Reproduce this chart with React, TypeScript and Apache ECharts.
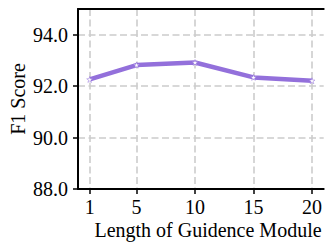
import React, { useEffect, useRef } from "react";
import * as echarts from "echarts";

const lengths = [1, 5, 10, 15, 20];
const f1Scores = [92.26, 92.82, 92.92, 92.34, 92.21];
const yTicks = [88, 90, 92, 94];

const STAR =
  "path://M50,0 L61,35 L98,35 L68,57 L79,91 L50,70 L21,91 L32,57 L2,35 L39,35 Z";

export default function App() {
  const ref = useRef<HTMLDivElement>(null);
  useEffect(() => {
    if (!ref.current) return;
    const chart = echarts.init(ref.current, null, { renderer: "svg" });
    const font = "Liberation Serif";
    const grid = { color: "#cccccc", width: 1.6, type: [7, 3.5] as number[] };
    chart.setOption({
      animation: false,
      backgroundColor: "#ffffff",
      grid: { left: 78, top: 9, bottom: 55, right: -2 },
      xAxis: [
        {
          type: "value",
          min: 0,
          max: 21,
          axisLine: { show: true, lineStyle: { color: "#000", width: 2 } },
          axisTick: {
            show: true,
            customValues: lengths,
            length: 5,
            lineStyle: { color: "#000", width: 1.5 },
          },
          axisLabel: {
            customValues: lengths,
            formatter: (v: number) => String(v),
            color: "#000",
            fontFamily: font,
            fontSize: 20,
            margin: 8,
          },
          splitLine: { show: true, lineStyle: grid },
        },
        {
          type: "value",
          position: "top",
          min: 0,
          max: 21,
          axisLine: { show: true, lineStyle: { color: "#000", width: 2 } },
          axisTick: { show: false },
          axisLabel: { show: false },
          splitLine: { show: false },
        },
      ],
      yAxis: {
        type: "value",
        min: 88,
        max: 95,
        axisLine: { show: true, lineStyle: { color: "#000", width: 2 } },
        axisTick: {
          show: true,
          customValues: yTicks,
          length: 5,
          lineStyle: { color: "#000", width: 1.5 },
        },
        axisLabel: {
          customValues: yTicks,
          formatter: (v: number) => v.toFixed(1),
          color: "#000",
          fontFamily: font,
          fontSize: 20,
          margin: 10,
        },
        splitLine: { show: true, lineStyle: grid },
      },
      graphic: [
        {
          type: "text",
          x: 208,
          y: 230,
          style: {
            text: "Length of Guidence Module",
            fontFamily: font,
            fontSize: 20,
            fill: "#000",
            align: "center",
            verticalAlign: "middle",
          },
        },
        {
          type: "text",
          x: 18,
          y: 99,
          rotation: Math.PI / 2,
          style: {
            text: "F1 Score",
            fontFamily: font,
            fontSize: 20,
            fill: "#000",
            align: "center",
            verticalAlign: "middle",
          },
        },
      ],
      series: [
        {
          type: "line",
          data: lengths.map((x, i) => [x, f1Scores[i]]),
          lineStyle: { color: "#9370DB", width: 4.5 },
          symbol: STAR,
          symbolSize: 6,
          itemStyle: { color: "#ffffff", borderColor: "#9370DB", borderWidth: 0.5 },
          z: 5,
        },
      ],
    });
    return () => chart.dispose();
  }, []);
  return <div ref={ref} style={{ width: 325, height: 244, position: "absolute", left: 0, top: 0 }} />;
}
